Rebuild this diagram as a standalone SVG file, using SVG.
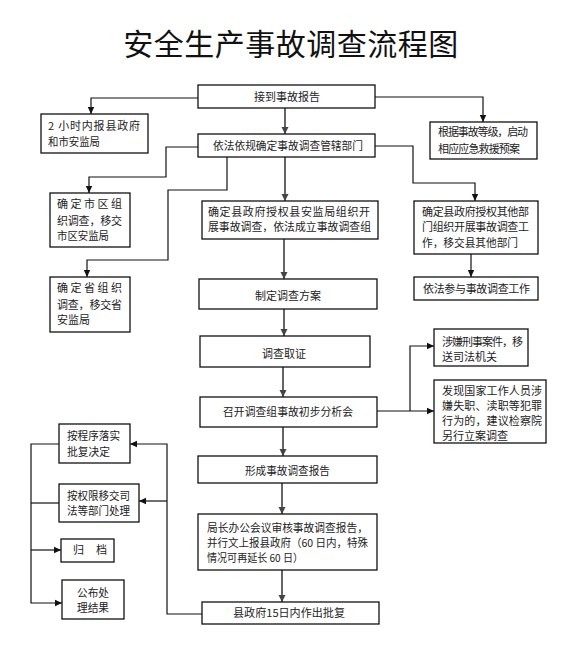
<svg xmlns="http://www.w3.org/2000/svg" width="575" height="668" viewBox="0 0 575 668">
<style>
.box{fill:#fff;stroke:#111;stroke-width:1.3}
.t{font-family:"Noto Sans CJK SC","Noto Sans",sans-serif;font-size:11px;fill:#222}
.m{text-anchor:middle}
.title{font-family:"Noto Sans CJK SC",sans-serif;font-size:30px;fill:#111;text-anchor:middle;letter-spacing:0.5px}
.c{fill:none;stroke:#111;stroke-width:1.2}
.g{fill:none;stroke:#555;stroke-width:1.8}
</style>
<defs>
<marker id="a" markerUnits="userSpaceOnUse" markerWidth="8" markerHeight="8" refX="7" refY="4" orient="auto">
<path d="M0,0.8 L7,4 L0,7.2 Z" fill="#111"/>
</marker>
<marker id="ag" markerUnits="userSpaceOnUse" markerWidth="8" markerHeight="8" refX="7" refY="4" orient="auto">
<path d="M0,0.5 L7,4 L0,7.5 Z" fill="#444"/>
</marker>
</defs>
<rect width="575" height="668" fill="#fff"/>
<text class="title" x="291" y="55">安全生产事故调查流程图</text>

<g id="connectors">
<path class="c" d="M198,98 H91 V114" marker-end="url(#a)"/>
<path class="c" d="M375,97 H483 V122" marker-end="url(#a)"/>
<path class="g" d="M285,108 V134" marker-end="url(#ag)"/>
<path class="c" d="M198,147 H166 V177 H89 V193" marker-end="url(#a)"/>
<path class="c" d="M227,157 V190 H168 V260 H87 V277" marker-end="url(#a)"/>
<path class="g" d="M285,157 V201" marker-end="url(#ag)"/>
<path class="c" d="M375,146 H413 V183 H475 V201" marker-end="url(#a)"/>
<path class="c" d="M471,254 V277" marker-end="url(#a)"/>
<path class="g" d="M284,239 V279" marker-end="url(#ag)"/>
<path class="g" d="M284,309 V336" marker-end="url(#ag)"/>
<path class="g" d="M283,367 V397" marker-end="url(#ag)"/>
<path class="c" d="M377,411 H434" marker-end="url(#a)"/>
<path class="c" d="M410,411 V346 H434" marker-end="url(#a)"/>
<path class="g" d="M283,427 V456" marker-end="url(#ag)"/>
<path class="g" d="M282,483 V514" marker-end="url(#ag)"/>
<path class="g" d="M282,570 V602" marker-end="url(#ag)"/>
<path class="c" d="M202,614 H167 V444 H130" marker-end="url(#a)"/>
<path class="c" d="M167,501 H139" marker-end="url(#a)"/>
<path class="c" d="M59,444 H31 V603 H62" marker-end="url(#a)"/>
<path class="c" d="M31,503 H59"/>
<path class="c" d="M31,550 H61" marker-end="url(#a)"/>
</g>

<g id="n1"><rect class="box" x="198" y="85" width="177" height="23"/>
<text class="t m" x="287" y="101">接到事故报告</text></g>

<g id="n2"><rect class="box" x="41" y="114" width="107" height="39"/>
<text class="t" x="48" y="130" textLength="92" lengthAdjust="spacing">2 小时内报县政府</text>
<text class="t" x="48" y="146" textLength="52" lengthAdjust="spacingAndGlyphs">和市安监局</text></g>

<g id="n3"><rect class="box" x="430" y="122" width="107" height="37"/>
<text class="t" x="438" y="136" textLength="90" lengthAdjust="spacing">根据事故等级，启动</text>
<text class="t" x="438" y="153" textLength="82" lengthAdjust="spacing">相应应急救援预案</text></g>

<g id="n4"><rect class="box" x="198" y="134" width="177" height="23"/>
<text class="t" x="213" y="150" textLength="150" lengthAdjust="spacingAndGlyphs">依法依规确定事故调查管辖部门</text></g>

<g id="n5"><rect class="box" x="50" y="193" width="80" height="54"/>
<text class="t" x="57" y="208" textLength="65" lengthAdjust="spacing">确定市区组</text>
<text class="t" x="57" y="225" textLength="65" lengthAdjust="spacing">织调查，移交</text>
<text class="t" x="57" y="240" textLength="52" lengthAdjust="spacingAndGlyphs">市区安监局</text></g>

<g id="n6"><rect class="box" x="50" y="277" width="80" height="55"/>
<text class="t" x="57" y="292" textLength="65" lengthAdjust="spacing">确定省组织</text>
<text class="t" x="57" y="309" textLength="65" lengthAdjust="spacing">调查，移交省</text>
<text class="t" x="57" y="324">安监局</text></g>

<g id="n7"><rect class="box" x="202" y="201" width="176" height="38"/>
<text class="t" x="208" y="216" textLength="162" lengthAdjust="spacing">确定县政府授权县安监局组织开</text>
<text class="t" x="208" y="231" textLength="163" lengthAdjust="spacingAndGlyphs">展事故调查，依法成立事故调查组</text></g>

<g id="n8"><rect class="box" x="414" y="201" width="124" height="53"/>
<text class="t" x="422" y="216" textLength="107" lengthAdjust="spacing">确定县政府授权其他部</text>
<text class="t" x="422" y="231" textLength="107" lengthAdjust="spacing">门组织开展事故调查工</text>
<text class="t" x="422" y="247" textLength="96" lengthAdjust="spacingAndGlyphs">作，移交县其他部门</text></g>

<g id="n9"><rect class="box" x="414" y="277" width="124" height="23"/>
<text class="t" x="423" y="293" textLength="107" lengthAdjust="spacing">依法参与事故调查工作</text></g>

<g id="n10"><rect class="box" x="199" y="279" width="178" height="30"/>
<text class="t m" x="288" y="300">制定调查方案</text></g>

<g id="n11"><rect class="box" x="200" y="336" width="170" height="31"/>
<text class="t m" x="284" y="358">调查取证</text></g>

<g id="n12"><rect class="box" x="200" y="397" width="177" height="30"/>
<text class="t" x="223" y="416" textLength="130" lengthAdjust="spacingAndGlyphs">召开调查组事故初步分析会</text></g>

<g id="n13"><rect class="box" x="434" y="329" width="94" height="37"/>
<text class="t" x="442" y="346" textLength="81" lengthAdjust="spacing">涉嫌刑事案件，移</text>
<text class="t" x="442" y="361">送司法机关</text></g>

<g id="n14"><rect class="box" x="434" y="380" width="112" height="63"/>
<text class="t" x="442" y="395" textLength="100" lengthAdjust="spacing">发现国家工作人员涉</text>
<text class="t" x="442" y="410" textLength="100" lengthAdjust="spacing">嫌失职、渎职等犯罪</text>
<text class="t" x="442" y="425" textLength="100" lengthAdjust="spacing">行为的，建议检察院</text>
<text class="t" x="442" y="440">另行立案调查</text></g>

<g id="n15"><rect class="box" x="198" y="456" width="179" height="27"/>
<text class="t" x="245" y="475" textLength="85" lengthAdjust="spacingAndGlyphs">形成事故调查报告</text></g>

<g id="n16"><rect class="box" x="198" y="514" width="179" height="56"/>
<text class="t" x="207" y="532" textLength="161" lengthAdjust="spacingAndGlyphs">局长办公会议审核事故调查报告，</text>
<text class="t" x="207" y="547" textLength="161" lengthAdjust="spacingAndGlyphs">并行文上报县政府（60 日内，特殊</text>
<text class="t" x="207" y="562" textLength="96" lengthAdjust="spacingAndGlyphs">情况可再延长 60 日）</text></g>

<g id="n17"><rect class="box" x="202" y="602" width="177" height="22"/>
<text class="t" x="233" y="617" textLength="112" lengthAdjust="spacingAndGlyphs">县政府15日内作出批复</text></g>

<g id="n18"><rect class="box" x="59" y="424" width="71" height="39"/>
<text class="t" x="67" y="440" textLength="53" lengthAdjust="spacingAndGlyphs">按程序落实</text>
<text class="t" x="67" y="456" textLength="43" lengthAdjust="spacingAndGlyphs">批复决定</text></g>

<g id="n19"><rect class="box" x="59" y="484" width="80" height="38"/>
<text class="t" x="67" y="500" textLength="63" lengthAdjust="spacingAndGlyphs">按权限移交司</text>
<text class="t" x="67" y="515" textLength="63" lengthAdjust="spacingAndGlyphs">法等部门处理</text></g>

<g id="n20"><rect class="box" x="61" y="539" width="53" height="23"/>
<text class="t" x="73" y="554" textLength="34" lengthAdjust="spacing">归 档</text></g>

<g id="n21"><rect class="box" x="62" y="580" width="62" height="39"/>
<text class="t" x="77" y="597" textLength="32" lengthAdjust="spacingAndGlyphs">公布处</text>
<text class="t" x="77" y="612" textLength="32" lengthAdjust="spacingAndGlyphs">理结果</text></g>
</svg>
